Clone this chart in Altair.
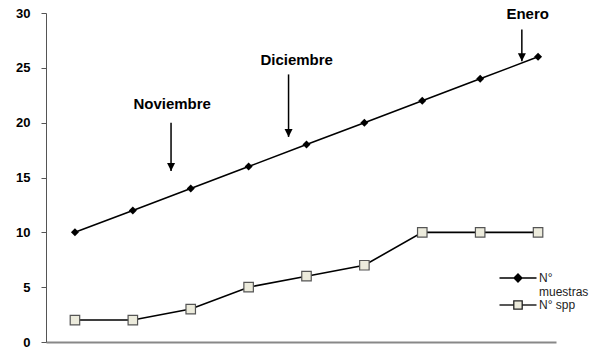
import altair as alt
import pandas as pd

# Sampling sequence (x positions) and the two cumulative series
muestreo = [1, 2, 3, 4, 5, 6, 7, 8, 9]
n_muestras = [10, 12, 14, 16, 18, 20, 22, 24, 26]
n_spp = [2, 2, 3, 5, 6, 7, 10, 10, 10]
series = ["N° muestras", "N° spp"]

# Month annotations: label position and arrow (x, start y, tip y) in data units
meses = ["Noviembre", "Diciembre", "Enero"]
mes_x = [2.68, 4.83, 8.82]
mes_y = [21.7, 25.7, 29.9]
flecha_x = [2.66, 4.69, 8.72]
flecha_inicio = [20.0, 24.4, 28.5]
flecha_fin = [15.6, 18.7, 25.6]

y_ticks = [0, 5, 10, 15, 20, 25, 30]

FONT = "Liberation Sans"
FILL_CUADRO = "#ecebdc"

datos = pd.DataFrame({
    "x": muestreo * 2,
    "valor": n_muestras + n_spp,
    "serie": [series[0]] * len(muestreo) + [series[1]] * len(muestreo),
})
notas = pd.DataFrame({
    "mes": meses, "tx": mes_x, "ty": mes_y,
    "fx": flecha_x, "f0": flecha_inicio, "f1": flecha_fin,
})

x_enc = alt.X("x:Q", scale=alt.Scale(domain=[0.5, 9.31], nice=False, zero=False),
              axis=alt.Axis(title=None, labels=False, ticks=False, grid=False,
                            domainColor="#888888", domainWidth=2))
y_enc = alt.Y("valor:Q", scale=alt.Scale(domain=[0, 30], nice=False),
              axis=alt.Axis(title=None, values=y_ticks, grid=False, tickSize=5,
                            tickColor="#555555", domainColor="#555555", domainWidth=1,
                            labelPadding=11, labelFont=FONT, labelFontSize=13,
                            labelFontWeight="bold", labelColor="#000000"))

base = alt.Chart(datos)

lineas = base.mark_line(color="#000000", strokeWidth=1.6).encode(
    x=x_enc, y=y_enc, detail="serie:N")

rombos = base.transform_filter(alt.datum.serie == series[0]).mark_point(
    shape="diamond", filled=True, color="#000000", size=64, opacity=1
).encode(x="x:Q", y="valor:Q")

cuadros = base.transform_filter(alt.datum.serie == series[1]).mark_point(
    shape="square", fill=FILL_CUADRO, stroke="#555555", strokeWidth=1.2,
    size=90, opacity=1
).encode(x="x:Q", y="valor:Q")

# Legend symbols: a line segment with the series marker on it
sim_muestras = "M-1.85,0H1.85M-0.4,0L0,-0.4L0.4,0L0,0.4Z"
sim_spp = "M-1.85,0H-0.42M0.42,0H1.85M-0.42,-0.42H0.42V0.42H-0.42Z"


def entrada_leyenda(serie, simbolo, relleno, borde, pos_y):
    """One legend entry per series, each placed on its own."""
    props = dict(
        title=None, orient="none", legendX=461, legendY=pos_y, padding=0,
        symbolSize=400, symbolStrokeWidth=1.3,
        labelOffset=10, labelFont=FONT, labelFontSize=12, labelColor="#222222",
        labelBaseline="middle",
        labelExpr="datum.label == 'N° muestras' ? ['N°', 'muestras'] : datum.label",
    )
    return base.transform_filter("false").mark_point(
        strokeWidth=1.3, opacity=1
    ).encode(
        x="x:Q", y="valor:Q",
        shape=alt.Shape("serie:N", scale=alt.Scale(domain=[serie], range=[simbolo]),
                        legend=alt.Legend(**props)),
        fill=alt.Fill("serie:N", scale=alt.Scale(domain=[serie], range=[relleno]),
                      legend=alt.Legend(**props)),
        stroke=alt.Stroke("serie:N", scale=alt.Scale(domain=[serie], range=[borde]),
                          legend=alt.Legend(**props)),
    )


leyenda_muestras = entrada_leyenda(series[0], sim_muestras, "#000000", "#000000", 254)
leyenda_spp = entrada_leyenda(series[1], sim_spp, FILL_CUADRO, "#222222", 281)

notas_base = alt.Chart(notas)
textos = notas_base.mark_text(font=FONT, fontSize=15, fontWeight="bold",
                              color="#000000", baseline="middle", align="center").encode(
    x="tx:Q", y="ty:Q", text="mes:N")
flechas = notas_base.mark_rule(color="#000000", strokeWidth=1.5).encode(
    x="fx:Q", y="f0:Q", y2="f1:Q")
puntas = notas_base.mark_point(shape="M-0.5,-1L0.5,-1L0,0Z", filled=True,
                               color="#000000", size=256, opacity=1).encode(
    x="fx:Q", y="f1:Q")

chart = alt.layer(
    lineas, rombos, cuadros, leyenda_muestras, leyenda_spp, flechas, puntas, textos
).resolve_scale(
    shape="independent", fill="independent", stroke="independent"
).properties(
    width=510, height=329,
    autosize=alt.AutoSizeParams(type="none"),
    padding={"left": 46, "top": 13, "right": 54, "bottom": 7},
    background="#ffffff",
).configure_view(stroke=None)

chart.save("out.html", embed_options={"renderer": "svg", "actions": False})
